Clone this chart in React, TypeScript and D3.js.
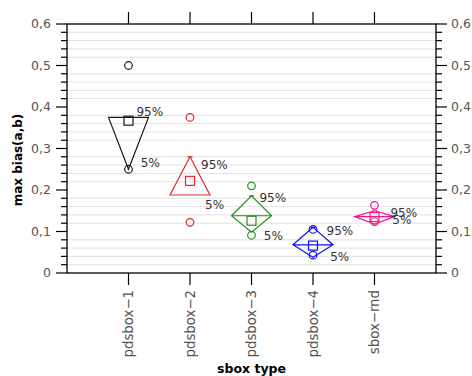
import React from 'react';
import * as d3 from 'd3';

const categories = ['pdsbox\u22121', 'pdsbox\u22122', 'pdsbox\u22123', 'pdsbox\u22124', 'sbox\u2212rnd'];
const colors = ['#1a1a1a', '#e5282c', '#239023', '#1010f0', '#f0188c'];
const q95 = [0.375, 0.28, 0.186, 0.11, 0.15];
const q05 = [0.25, 0.188, 0.098, 0.038, 0.118];
const modeVals = [0.375, 0.188, 0.138, 0.068, 0.136];
const means = [0.367, 0.222, 0.126, 0.066, 0.135];
const maxVals = [0.5, 0.375, 0.21, 0.105, 0.163];
const minVals = [0.25, 0.122, 0.091, 0.043, 0.124];
// annotation anchors (x in category units, y in data units)
const label95X = [1.13, 2.18, 3.13, 4.22, 5.26];
const label95Y = [0.378, 0.25, 0.171, 0.092, 0.134];
const label05X = [1.2, 2.245, 3.2, 4.28, 5.29];
const label05Y = [0.255, 0.155, 0.08, 0.03, 0.118];
const yTicks = [0, 0.1, 0.2, 0.3, 0.4, 0.5, 0.6];
const yTickLabels = ['0', '0,1', '0,2', '0,3', '0,4', '0,5', '0,6'];

const W = 472, H = 376;
const left = 67, right = 436, top = 24, bottom = 273;
const font = 'DejaVu Sans, sans-serif';

export default function App() {
  const x = d3.scaleLinear().domain([0, 6]).range([left, right]);
  const y = d3.scaleLinear().domain([0, 0.6]).range([bottom, top]);
  const minor = d3.range(0, 0.6001, 0.02).map(v => +v.toFixed(2));
  const minorOnly = minor.filter(v => Math.abs(v * 10 - Math.round(v * 10)) > 1e-6);
  const hw = x(0.325) - x(0);

  return (
    <svg width={W} height={H} style={{ position: 'absolute', left: 0, top: 0 }} fontFamily={font}>
      <rect width={W} height={H} fill="#fff" />
      {minorOnly.map(v => (
        <line key={'g' + v} x1={left} x2={right} y1={y(v)} y2={y(v)} stroke="#e2e2e2" strokeWidth={1} />
      ))}
      {/* y ticks both sides */}
      {minor.map(v => {
        const major = !minorOnly.includes(v);
        const len = major ? 11 : 6;
        return (
          <g key={'t' + v}>
            <line x1={left - len} x2={left} y1={y(v)} y2={y(v)} stroke="#000" strokeWidth={1.2} />
            <line x1={right} x2={right + len} y1={y(v)} y2={y(v)} stroke="#000" strokeWidth={1.2} />
          </g>
        );
      })}
      {yTicks.map((v, i) => (
        <g key={'yl' + v} fontSize={12.5} fill="#555">
          <text x={left - 16} y={y(v)} dy="0.35em" textAnchor="end">{yTickLabels[i]}</text>
          <text x={right + 15} y={y(v)} dy="0.35em" textAnchor="start">{yTickLabels[i]}</text>
        </g>
      ))}
      {categories.map((c, i) => (
        <g key={'x' + c}>
          <line x1={x(i + 1)} x2={x(i + 1)} y1={bottom} y2={bottom + 12} stroke="#000" strokeWidth={1.2} />
          <line x1={x(i + 1)} x2={x(i + 1)} y1={top} y2={top - 12} stroke="#000" strokeWidth={1.2} />
          <text transform={`translate(${x(i + 1)},${bottom + 17}) rotate(-90)`} textAnchor="end" dy="0.35em"
            fontSize={13.3} fill="#555">{c}</text>
        </g>
      ))}
      <rect x={left} y={top} width={right - left} height={bottom - top} fill="none" stroke="#000" strokeWidth={1.3} />

      {categories.map((c, i) => {
        const cx = x(i + 1);
        const col = colors[i];
        const path = d3.path();
        path.moveTo(cx, y(q95[i]));
        path.lineTo(cx + hw, y(modeVals[i]));
        path.lineTo(cx, y(q05[i]));
        path.lineTo(cx - hw, y(modeVals[i]));
        path.closePath();
        path.moveTo(cx - hw, y(modeVals[i]));
        path.lineTo(cx + hw, y(modeVals[i]));
        path.moveTo(cx - 2.5, y(q95[i]));
        path.lineTo(cx + 2.5, y(q95[i]));
        return (
          <g key={'s' + c} fill="none" stroke={col} strokeWidth={1.2}>
            <path d={path.toString()} />
            <rect x={cx - 4.5} y={y(means[i]) - 4.5} width={9} height={9} />
            <circle cx={cx} cy={y(maxVals[i])} r={3.8} />
            <circle cx={cx} cy={y(minVals[i])} r={3.8} />
            <text x={x(label95X[i])} y={y(label95Y[i])} fill="#333" stroke="none" fontSize={12}>95%</text>
            <text x={x(label05X[i])} y={y(label05Y[i])} fill="#333" stroke="none" fontSize={12}>5%</text>
          </g>
        );
      })}

      <text transform={`translate(18,160) rotate(-90)`} textAnchor="middle" dy="0.35em"
        fontSize={12} fontWeight="bold" fill="#000">max bias(a,b)</text>
      <text x={(left + right) / 2} y={369} dy="0.35em" textAnchor="middle" fontSize={12.5} fontWeight="bold"
        fill="#000">sbox type</text>
    </svg>
  );
}
